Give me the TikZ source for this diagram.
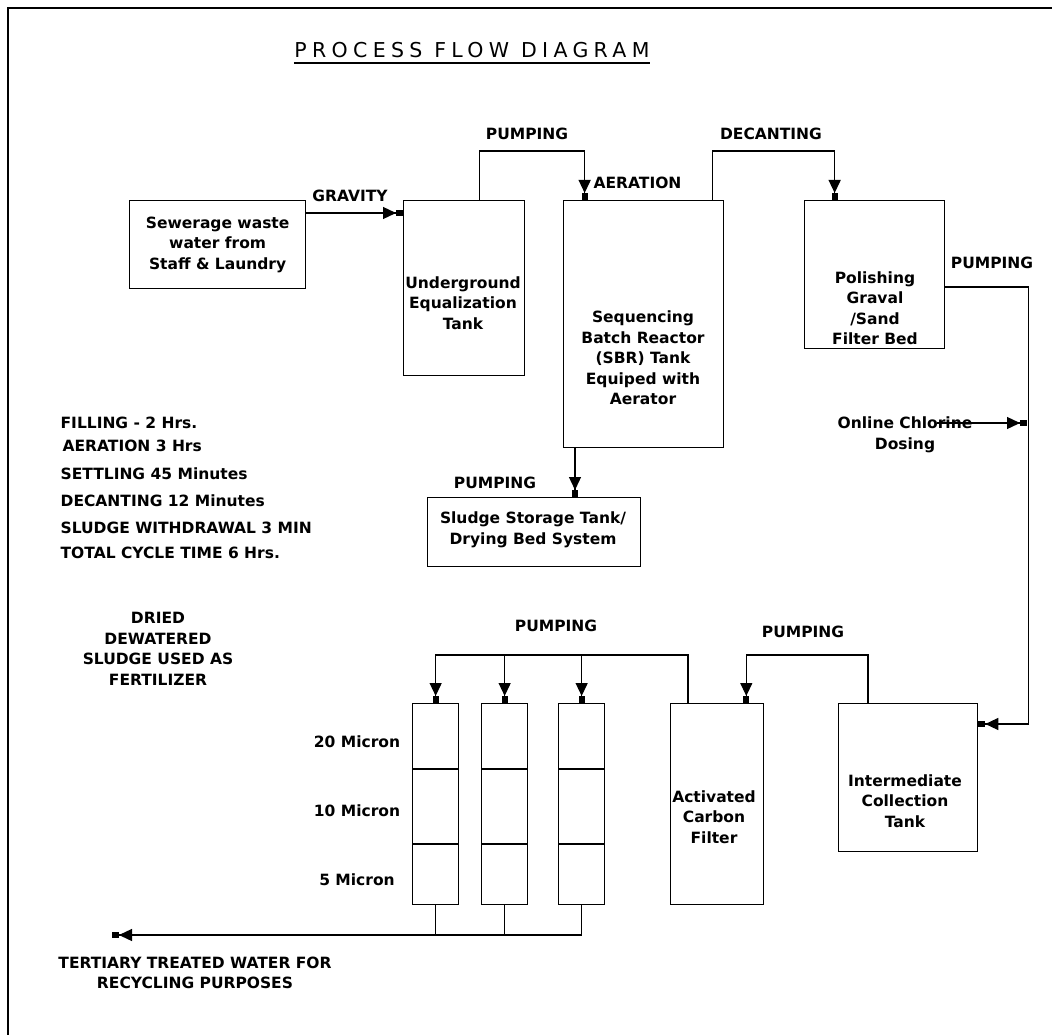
\documentclass[tikz,border=0pt]{standalone}
\usepackage{fontspec}
\setmainfont{DejaVu Sans}
\newfontfamily\titlefont[LetterSpace=26]{DejaVu Sans}
\usetikzlibrary{arrows.meta,positioning}

\newcommand{\lbl}{\bfseries\fontsize{15.5}{20.5}\selectfont}

\begin{document}
\begin{tikzpicture}[x=1pt, y=-1pt, line width=1.3pt,
  tank/.style={draw, rectangle, inner sep=0pt, anchor=north west},
  txt/.style={font=\lbl, align=center, inner sep=0pt},
  note/.style={font=\lbl, anchor=base west, inner sep=0pt},
  flow/.style={-{Triangle[length=13pt,width=12pt,sep=0pt]Rectangle[length=7pt,width=6pt]}}]

  \useasboundingbox (0,0) rectangle (1052,1035);
  \draw (8,1035) -- (8,8) -- (1052,8);

  % title
  \node[inner sep=0pt, anchor=base, font=\titlefont\fontsize{20.5}{24}\selectfont] (title) at (472,58) {PROCESS FLOW DIAGRAM};
  \draw ([yshift=-5pt]title.base west) -- ([yshift=-5pt]title.base east);

  % tanks
  \node[tank, txt, draw, minimum width=176pt, minimum height=88pt] (1) at (129,200) {Sewerage waste\\water from\\Staff \& Laundry};
  \node[tank, minimum width=121pt, minimum height=175pt] (2) at (403,200) {};
  \node[tank, minimum width=160pt, minimum height=247pt] (3) at (563,200) {};
  \node[tank, minimum width=140pt, minimum height=148pt] (4) at (804,200) {};
  \node[tank, minimum width=213pt, minimum height=69pt] (5) at (427,497) {};
  \node[tank, minimum width=93pt, minimum height=201pt] (7) at (670,703) {};
  \node[tank, minimum width=139pt, minimum height=148pt] (8) at (838,703) {};

  \node[txt] (2t) at (463,303) {Underground\\Equalization\\Tank};
  \node[txt] (3t) at (643,358) {Sequencing\\Batch Reactor\\(SBR) Tank\\Equiped with\\Aerator};
  \node[txt] (4t) at (875,308) {Polishing\\Graval\\/Sand\\Filter Bed};
  \node[txt] (5t) at (533,530) {Sludge Storage Tank/\\Drying Bed System};
  \node[txt] (7t) at (714,817) {Activated\\Carbon\\Filter};
  \node[txt] (8t) at (905,801) {Intermediate\\Collection\\Tank};

  % cartridge filters
  \foreach \n/\x in {f1/412, f2/481, f3/558} {
    \node[tank, minimum width=46pt, minimum height=201pt] (\n) at (\x,703) {};
    \draw ([yshift=-66pt]\n.north west) -- ([yshift=-66pt]\n.north east);
    \draw ([yshift=-141pt]\n.north west) -- ([yshift=-141pt]\n.north east);
  }
  \node[txt] (m20) at (357,742) {20 Micron};
  \node[txt] (m10) at (357,811) {10 Micron};
  \node[txt] (m5) at (357,880) {5 Micron};

  % connectors
  \draw[flow] ([yshift=-13pt]1.north east) -- ([yshift=-13pt]2.north west);
  \draw[flow] ([xshift=15pt]2.north) -- ++(0,-49) -| ([xshift=-59pt]3.north);
  \draw[flow] ([xshift=-12pt]3.north east) -- ++(0,-49) -| ([xshift=-40pt]4.north);
  \draw[flow] ([yshift=-87pt]4.north east) -- ++(83,0) |- ([yshift=-21pt]8.north east);
  \draw[flow] ([xshift=12pt]3.south west) -- ([xshift=12pt]3.south west |- 5.north);
  \coordinate (cl) at (937,423);
  \coordinate (j) at (1027,423);
  \draw[flow] (cl) -- (j);
  \draw[flow] ([xshift=30pt]8.north west) -- ++(0,-48) -| ([xshift=-18pt]7.north east);
  \draw[flow] ([xshift=18pt]7.north west) -- ++(0,-48) coordinate (h) -| (f1.north);
  \draw[flow] (f2.north |- h) -- (f2.north);
  \draw[flow] (f3.north |- h) -- (f3.north);
  \coordinate (out) at (112,935);
  \draw[flow] (f3.south) |- (out);
  \draw (f1.south) -- (f1.south |- out);
  \draw (f2.south) -- (f2.south |- out);

  % labels
  \node[txt, anchor=base] (g) at (350,202) {GRAVITY};
  \node[txt, anchor=base] (p1) at (527,140) {PUMPING};
  \node[txt, anchor=base west] (a) at (593,189) {AERATION};
  \node[txt, anchor=base] (d) at (771,140) {DECANTING};
  \node[txt, anchor=base] (p2) at (992,269) {PUMPING};
  \node[txt] (chl) at (905,435) {Online Chlorine\\Dosing};
  \node[txt, anchor=base] (p3) at (495,488) {PUMPING};
  \node[txt, anchor=base] (p4) at (556,631) {PUMPING};
  \node[txt, anchor=base] (p5) at (803,637) {PUMPING};

  \node[note] (n1) at (60,428) {FILLING - 2 Hrs.};
  \node[note] (n2) at (62,451) {AERATION 3 Hrs};
  \node[note] (n3) at (60,479) {SETTLING 45 Minutes};
  \node[note] (n4) at (60,506) {DECANTING 12 Minutes};
  \node[note] (n5) at (60,533) {SLUDGE WITHDRAWAL 3 MIN};
  \node[note] (n6) at (60,558) {TOTAL CYCLE TIME 6 Hrs.};

  \node[txt] (dry) at (158,649) {DRIED\\DEWATERED\\SLUDGE USED AS\\FERTILIZER};
  \node[txt] (ter) at (195,973) {TERTIARY TREATED WATER FOR\\RECYCLING PURPOSES};
\end{tikzpicture}
\end{document}
